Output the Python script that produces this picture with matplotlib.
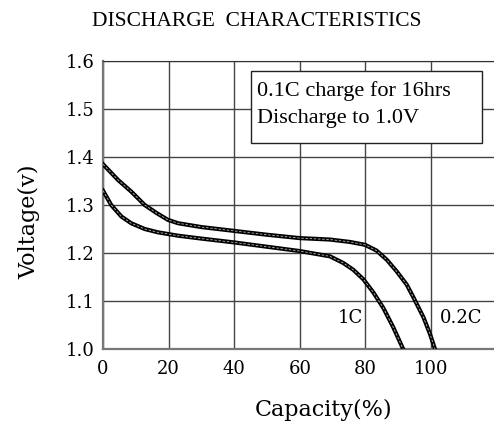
import matplotlib.pyplot as plt
from matplotlib.patches import Rectangle

# capacity (%) vs voltage for each discharge rate
cap_02c = [0, 4.6, 8.6, 12.7, 16.4, 19.8, 22.9, 30, 40, 50, 60, 69.2, 75.3, 79.9,
           83.4, 86.5, 89.5, 92.6, 94.6, 97.7, 99.7, 101.2]
volt_02c = [1.385, 1.352, 1.328, 1.300, 1.283, 1.269, 1.262, 1.254, 1.246, 1.238, 1.231,
            1.228, 1.223, 1.217, 1.205, 1.186, 1.162, 1.134, 1.108, 1.066, 1.031, 1.000]

cap_1c = [0, 2.5, 5.6, 8.6, 12.7, 16.8, 22.9, 30, 40, 50, 60, 69.2, 73.3, 76.3,
          79.4, 82.4, 85.5, 88.5, 91.5]
volt_1c = [1.330, 1.300, 1.276, 1.262, 1.250, 1.243, 1.236, 1.230, 1.222, 1.213, 1.204,
           1.193, 1.179, 1.165, 1.145, 1.118, 1.085, 1.045, 1.000]

xticks = [0, 20, 40, 60, 80, 100]
yticks = [1.0, 1.1, 1.2, 1.3, 1.4, 1.5, 1.6]

serif = 'DejaVu Serif'
narrow = 'Liberation Serif'

fig = plt.figure(figsize=(4.94, 4.28), dpi=100)
ax = fig.add_axes([0.2085, 0.1846, 0.7915, 0.6729])

ax.set_xlim(0, 119.2)
ax.set_ylim(1.0, 1.6)
ax.set_xticks(xticks)
ax.set_yticks(yticks)
ax.set_xticklabels([str(t) for t in xticks], family=serif, fontsize=13)
ax.set_yticklabels([f'{t:.1f}' for t in yticks], family=serif, fontsize=13)
ax.tick_params(length=0, pad=8)
ax.tick_params(axis='y', pad=6)
ax.grid(True, color='#444444', lw=1.0)
ax.set_axisbelow(True)

for s in ['left', 'bottom']:
    ax.spines[s].set_color('#777777')
    ax.spines[s].set_linewidth(1.6)
ax.spines['top'].set_color('#333333')
ax.spines['right'].set_visible(False)

for x, y in [(cap_02c, volt_02c), (cap_1c, volt_1c)]:
    ax.plot(x, y, color='black', lw=3.0, solid_joinstyle='round', zorder=3)
    ax.plot(x, y, color='#bbbbbb', lw=0.6, ls=(0, (3, 2)), zorder=4)

ax.text(75.3, 1.065, '1C', family=serif, fontsize=13, ha='center', va='center')
ax.text(109.2, 1.065, '0.2C', family=serif, fontsize=13, ha='center', va='center')

ax.add_patch(Rectangle((45.1, 1.430), 70.4, 0.149, facecolor='white',
                       edgecolor='#222222', lw=1.0, zorder=5))
ax.text(46.8, 1.538, '0.1C charge for 16hrs', family=narrow, fontsize=16,
        va='center', ha='left', zorder=6)
ax.text(46.8, 1.480, 'Discharge to 1.0V', family=narrow, fontsize=16,
        va='center', ha='left', zorder=6)

fig.text(257 / 494, 1 - 21 / 428, 'DISCHARGE  CHARACTERISTICS', family=narrow,
         fontsize=15.5, ha='center', va='center')
fig.text(324 / 494, 1 - 410 / 428, 'Capacity(%)', family=serif, fontsize=16,
         ha='center', va='center')
fig.text(29 / 494, 1 - 222 / 428, 'Voltage(v)', family=serif, fontsize=16,
         rotation=90, ha='center', va='center')

fig.savefig('out.png', dpi=100)
